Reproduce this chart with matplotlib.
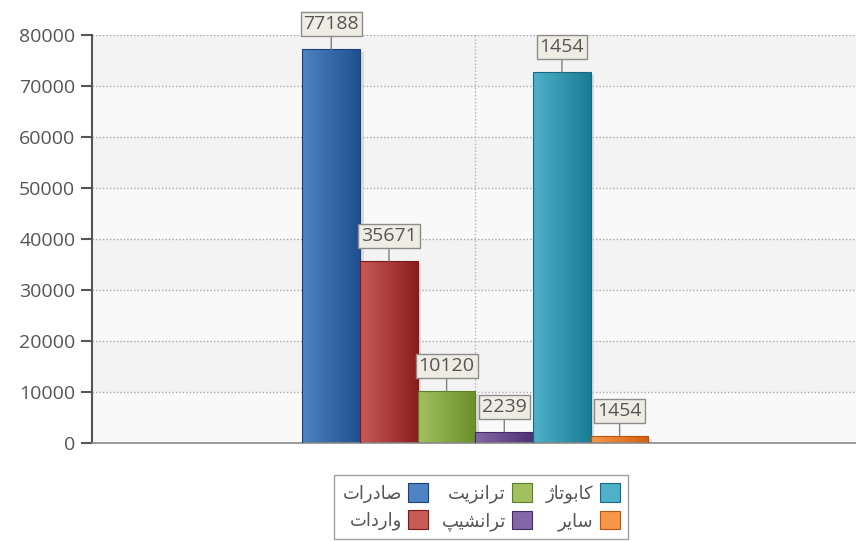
import numpy as np
import matplotlib
matplotlib.use("Agg")
import matplotlib.pyplot as plt
from matplotlib.colors import LinearSegmentedColormap
from matplotlib.patches import Patch


# ==============================
# Data
# ==============================

series_names = ["صادرات", "واردات", "ترانزیت", "ترانشیپ", "کابوتاژ", "سایر"]

values = [77188, 35671, 10120, 2239, 72700, 1454]

value_labels = ["77188", "35671", "10120", "2239", "1454", "1454"]

light_colors = ["#4f83c4", "#c85a57", "#a3c060", "#8467a6", "#4fb0c9", "#f6974a"]
dark_colors = ["#1f4f8e", "#8c1d1d", "#6a8f2b", "#4d3276", "#1a7b95", "#d6600e"]
edge_colors = ["#1b4276", "#7a1a1a", "#5d7d26", "#432c66", "#17697f", "#b85410"]

y_ticks = [0, 10000, 20000, 30000, 40000, 50000, 60000, 70000, 80000]


# ==============================
# Simple Persian shaping
# (matplotlib has no bidi / joining support)
# ==============================

# isolated, final, initial, medial
FORMS = {
    "ا": ("\ufe8d", "\ufe8e", None, None),
    "ب": ("\ufe8f", "\ufe90", "\ufe91", "\ufe92"),
    "ت": ("\ufe95", "\ufe96", "\ufe97", "\ufe98"),
    "د": ("\ufea9", "\ufeaa", None, None),
    "ر": ("\ufead", "\ufeae", None, None),
    "ز": ("\ufeaf", "\ufeb0", None, None),
    "س": ("\ufeb1", "\ufeb2", "\ufeb3", "\ufeb4"),
    "ش": ("\ufeb5", "\ufeb6", "\ufeb7", "\ufeb8"),
    "ص": ("\ufeb9", "\ufeba", "\ufebb", "\ufebc"),
    "ن": ("\ufee5", "\ufee6", "\ufee7", "\ufee8"),
    "و": ("\ufeed", "\ufeee", None, None),
    "پ": ("\ufb56", "\ufb57", "\ufb58", "\ufb59"),
    "ژ": ("\ufb8a", "\ufb8b", None, None),
    "ک": ("\ufb8e", "\ufb8f", "\ufb90", "\ufb91"),
    "ی": ("\ufbfc", "\ufbfd", "\ufbfe", "\ufbff"),
}


def dual(ch):
    return ch in FORMS and FORMS[ch][2] is not None


def shape(word):
    out = []
    n = len(word)
    for i, ch in enumerate(word):
        if ch not in FORMS:
            out.append(ch)
            continue
        prev_join = i > 0 and dual(word[i - 1])
        next_join = i < n - 1 and dual(ch) and word[i + 1] in FORMS
        iso, fin, ini, med = FORMS[ch]
        if prev_join and next_join:
            out.append(med)
        elif prev_join:
            out.append(fin)
        elif next_join:
            out.append(ini)
        else:
            out.append(iso)
    return "".join(out)[::-1]


# ==============================
# Figure
# ==============================

plt.rcParams["font.family"] = ["Open Sans", "DejaVu Sans"]

fig = plt.figure(figsize=(8.56, 5.41), dpi=100)

ax = fig.add_axes([92 / 856, 1 - 443 / 541, 1 - 92 / 856, 408 / 541])

ax.set_xlim(-4.15, 9.1)
ax.set_ylim(0, 80000)


# background bands
for k in range(8):
    lo = k * 10000
    shade = "#f3f3f3" if k % 2 == 1 else "#f9f9f9"
    ax.axhspan(lo, lo + 10000, color=shade, zorder=0, lw=0)


# gridlines
for t in y_ticks[1:]:
    ax.axhline(t, color="#a8a8a8", lw=1, ls=(0, (1, 1.5)), zorder=1)

ax.axvline(2.5, color="#b0b0b0", lw=1, ls=(0, (1, 1.5)), zorder=1)


# ==============================
# Bars with gradient
# ==============================

x = np.arange(len(values))

bars = ax.bar(
    x,
    values,
    width=1.0,
    color="none",
    edgecolor=edge_colors,
    linewidth=0.8,
    zorder=3
)

grad = np.linspace(0, 1, 100).reshape(1, -1)

for i, bar in enumerate(bars):
    x0 = bar.get_x()
    x1 = x0 + bar.get_width()
    h = bar.get_height()

    # soft shadow on the right side
    ax.fill_between(
        [x1, x1 + 0.06],
        0,
        h - 600,
        color="#c8c8c8",
        alpha=0.6,
        lw=0,
        zorder=2
    )

    cmap = LinearSegmentedColormap.from_list(
        "g%d" % i,
        [light_colors[i], dark_colors[i]]
    )

    img = ax.imshow(
        grad,
        extent=[x0, x1, 0, h],
        aspect="auto",
        cmap=cmap,
        zorder=2.5,
        interpolation="bicubic"
    )
    img.set_clip_path(bar)

ax.set_xlim(-4.15, 9.1)
ax.set_ylim(0, 80000)


# ==============================
# Value labels
# ==============================

for i, v in enumerate(values):
    ax.annotate(
        value_labels[i],
        xy=(x[i], v),
        xytext=(0, 11.5),
        textcoords="offset points",
        ha="center",
        va="bottom",
        fontsize=14,
        color="#555555",
        bbox=dict(
            boxstyle="square,pad=0.15",
            fc="#eeece3",
            ec="#8c8c8c",
            lw=1
        ),
        arrowprops=dict(
            arrowstyle="-",
            color="#808080",
            lw=1,
            shrinkA=0,
            shrinkB=0
        ),
        zorder=5,
        annotation_clip=False
    )


# ==============================
# Axes styling
# ==============================

ax.set_yticks(y_ticks)
ax.set_yticklabels([str(t) for t in y_ticks])
ax.set_xticks([])

ax.tick_params(
    axis="y",
    length=8,
    width=1.5,
    color="#555555",
    labelcolor="#555555",
    labelsize=14,
    pad=4
)

for side in ["top", "right"]:
    ax.spines[side].set_visible(False)

ax.spines["left"].set_color("#555555")
ax.spines["left"].set_linewidth(1.5)
ax.spines["bottom"].set_color("#8a8a8a")
ax.spines["bottom"].set_linewidth(1.2)


# ==============================
# Legend
# ==============================

handles = [
    Patch(facecolor=light_colors[i], edgecolor=edge_colors[i], lw=0.8)
    for i in range(len(series_names))
]

fig.legend(
    handles,
    [shape(n) for n in series_names],
    loc="center",
    bbox_to_anchor=(481 / 856, 1 - 507 / 541),
    ncol=3,
    markerfirst=False,
    frameon=True,
    fancybox=False,
    edgecolor="#888888",
    handlelength=1.1,
    handleheight=1.2,
    handletextpad=0.35,
    columnspacing=0.75,
    labelspacing=0.4,
    borderpad=0.45,
    prop={"family": ["DejaVu Sans"], "size": 13},
    labelcolor="#555555"
)


plt.savefig("out.png", dpi=100)

plt.close()
